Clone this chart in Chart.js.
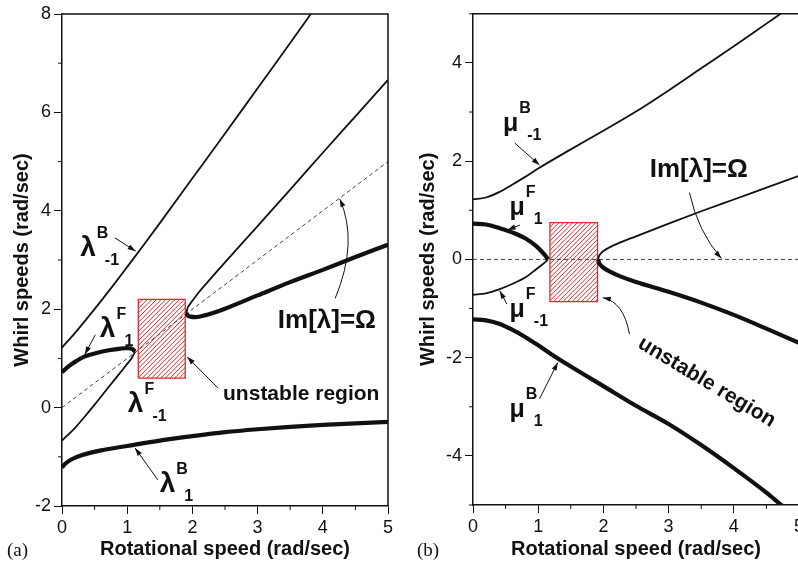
<!DOCTYPE html>
<html>
<head>
<meta charset="utf-8">
<script src="https://cdn.jsdelivr.net/npm/chart.js@4.4.0/dist/chart.umd.min.js"></script>
<style>
  html, body { margin: 0; padding: 0; background: #fff; overflow: hidden; }
  #wrap { position: relative; width: 798px; height: 561px; overflow: hidden; }
  canvas { position: absolute; top: 0; }
  #panelA { left: 0; }
  #panelB { left: 400px; }
</style>
</head>
<body>
<div id="wrap">
  <canvas id="panelA" width="400" height="561"></canvas>
  <canvas id="panelB" width="420" height="561"></canvas>
</div>
<script>
// ---- (a) whirl speeds, lambda branches ----
const lamBm1X = [0, 0.2, 0.4, 0.6, 0.8, 1, 1.25, 1.5, 2, 2.5, 3, 3.5, 3.8, 3.9];
const lamBm1Y = [1.22, 1.52, 1.84, 2.17, 2.51, 2.86, 3.3, 3.75, 4.66, 5.57, 6.49, 7.41, 7.97, 8.16];

const lamF1X = [0, 0.1, 0.2, 0.35, 0.5, 0.74, 0.9, 1.0, 1.06, 1.1, 1.12];
const lamF1Y = [0.72, 0.84, 0.93, 1.04, 1.1, 1.17, 1.2, 1.21, 1.2, 1.17, 1.14];

const lamFm1X = [0, 0.2, 0.37, 0.5, 0.74, 0.9, 0.99, 1.08, 1.12];
const lamFm1Y = [-0.67, -0.41, -0.15, 0.06, 0.46, 0.72, 0.87, 1.03, 1.14];

const lamHiX = [1.91, 1.92, 1.95, 2.0, 2.09, 2.2, 2.35, 2.5, 3, 3.5, 4, 4.5, 5];
const lamHiY = [1.92, 2.0, 2.08, 2.17, 2.33, 2.5, 2.73, 2.95, 3.69, 4.43, 5.18, 5.92, 6.66];

const lamLoX = [1.91, 1.93, 1.97, 2.05, 2.2, 2.35, 2.5, 3, 3.5, 4, 4.5, 5];
const lamLoY = [1.92, 1.87, 1.85, 1.84, 1.88, 1.94, 2.01, 2.28, 2.55, 2.8, 3.06, 3.31];

const lamB1X = [0, 0.05, 0.15, 0.3, 0.6, 1, 1.5, 2, 2.5, 3, 3.5, 4, 4.5, 5];
const lamB1Y = [-1.22, -1.14, -1.05, -0.97, -0.87, -0.78, -0.67, -0.58, -0.5, -0.44, -0.39, -0.35, -0.32, -0.29];

const omegaAX = [0, 5];
const omegaAY = [0, 5];

const unstableAX = [1.17, 1.89];
const unstableAY = [0.60, 2.20];

// ---- (b) whirl speeds, mu branches ----
const muBm1X = [0, 0.2, 0.4, 0.6, 0.8, 1, 1.5, 2, 2.5, 3, 3.5, 4, 4.5, 4.75];
const muBm1Y = [1.22, 1.26, 1.37, 1.52, 1.68, 1.85, 2.24, 2.62, 3.01, 3.44, 3.89, 4.34, 4.8, 5.03];

const muF1X = [0, 0.2, 0.4, 0.6, 0.8, 0.97, 1.06, 1.12, 1.15];
const muF1Y = [0.73, 0.71, 0.64, 0.55, 0.43, 0.27, 0.15, 0.06, 0];

const muFm1X = [0, 0.2, 0.4, 0.6, 0.8, 0.97, 1.06, 1.12, 1.15];
const muFm1Y = [-0.72, -0.69, -0.61, -0.5, -0.37, -0.2, -0.11, -0.04, 0];

const muHiX = [1.92, 1.93, 1.96, 2.0, 2.1, 2.25, 2.5, 3, 3.5, 4, 4.5, 5];
const muHiY = [0, 0.06, 0.12, 0.17, 0.25, 0.34, 0.47, 0.73, 0.98, 1.22, 1.46, 1.7];

const muLoX = [1.92, 1.93, 1.96, 2.0, 2.1, 2.25, 2.5, 3, 3.5, 4, 4.5, 5];
const muLoY = [0, -0.06, -0.12, -0.17, -0.25, -0.34, -0.46, -0.66, -0.88, -1.13, -1.41, -1.7];

const muB1X = [0, 0.2, 0.4, 0.6, 0.8, 1, 1.2, 1.5, 2, 2.5, 3, 3.5, 4, 4.5, 4.7, 4.8];
const muB1Y = [-1.22, -1.24, -1.31, -1.43, -1.58, -1.75, -1.93, -2.18, -2.58, -2.98, -3.35, -3.78, -4.25, -4.75, -4.97, -5.08];

const omegaBX = [0, 5];
const omegaBY = [0, 0];

const unstableBX = [1.18, 1.91];
const unstableBY = [-0.86, 0.75];

// ---- ticks ----
const xTicks = [0, 1, 2, 3, 4, 5];
const xMinor = [0.5, 1.5, 2.5, 3.5, 4.5];
const yTicksA = [-2, 0, 2, 4, 6, 8];
const yMinorA = [-1, 1, 3, 5, 7];
const yTicksB = [-4, -2, 0, 2, 4];
const yMinorB = [-5, -3, -1, 1, 3, 5];

const FAMILY = "'Liberation Sans', Arial, Helvetica, sans-serif";
const INK = "#111";
const RED = "#e3262c";


function points(xs, ys) {
    return xs.map((x, i) => ({ x, y: ys[i] }));
}

function curve(xs, ys, width) {
    return {
        data: points(xs, ys),
        showLine: true,
        borderColor: INK,
        borderWidth: width,
        pointRadius: 0,
        cubicInterpolationMode: "monotone",
        fill: false
    };
}

function dashed(xs, ys) {
    return {
        data: points(xs, ys),
        showLine: true,
        borderColor: "#444",
        borderWidth: 1,
        borderDash: [4, 3],
        pointRadius: 0,
        fill: false
    };
}

// red outline of the unstable band
function boxOutline(xs, ys) {
    const [x0, x1] = xs;
    const [y0, y1] = ys;
    return {
        data: [{ x: x0, y: y0 }, { x: x0, y: y1 }, { x: x1, y: y1 }, { x: x1, y: y0 }, { x: x0, y: y0 }],
        showLine: true,
        borderColor: RED,
        borderWidth: 1.3,
        pointRadius: 0,
        fill: false
    };
}


function drawArrow(ctx, pts) {
    const s = pts[0];
    const e = pts[pts.length - 1];
    const c = pts.length === 3 ? pts[1] : null;

    ctx.beginPath();
    ctx.moveTo(s[0], s[1]);
    if (c) ctx.quadraticCurveTo(c[0], c[1], e[0], e[1]);
    else ctx.lineTo(e[0], e[1]);
    ctx.stroke();

    const from = c || s;
    const ang = Math.atan2(e[1] - from[1], e[0] - from[0]);
    const L = 8, W = 2.6;
    ctx.beginPath();
    ctx.moveTo(e[0], e[1]);
    ctx.lineTo(e[0] - L * Math.cos(ang) + W * Math.sin(ang), e[1] - L * Math.sin(ang) - W * Math.cos(ang));
    ctx.lineTo(e[0] - L * Math.cos(ang) - W * Math.sin(ang), e[1] - L * Math.sin(ang) + W * Math.cos(ang));
    ctx.closePath();
    ctx.fill();
}

function drawSymbol(ctx, s, x, y) {
    ctx.textAlign = "left";
    ctx.textBaseline = "alphabetic";
    ctx.font = "bold " + s.size + "px " + FAMILY;
    ctx.fillText(s.base, x, y);
    const w = ctx.measureText(s.base).width;
    ctx.font = "bold 16px " + FAMILY;
    ctx.fillText(s.sup, x + w + 1, y - 18);
    ctx.fillText(s.sub, x + w + 9, y + 9);
}

// hatching, frame, minor ticks, labels and arrows
const figureNotes = {
    id: "figureNotes",
    beforeDatasetsDraw(chart, args, opts) {
        const { ctx } = chart;
        const sx = chart.scales.x;
        const sy = chart.scales.y;
        const left = sx.getPixelForValue(opts.hatch.xs[0]);
        const right = sx.getPixelForValue(opts.hatch.xs[1]);
        const top = sy.getPixelForValue(opts.hatch.ys[1]);
        const bottom = sy.getPixelForValue(opts.hatch.ys[0]);
        const h = bottom - top;

        ctx.save();
        ctx.beginPath();
        ctx.rect(left, top, right - left, h);
        ctx.clip();
        ctx.strokeStyle = RED;
        ctx.lineWidth = 1;
        ctx.beginPath();
        for (let k = left - h; k < right; k += 4.6) {
            ctx.moveTo(k, bottom);
            ctx.lineTo(k + h, top);
        }
        ctx.stroke();
        ctx.restore();
    },
    afterDraw(chart, args, opts) {
        const { ctx, chartArea: a } = chart;
        const sx = chart.scales.x;
        const sy = chart.scales.y;
        const px = v => sx.getPixelForValue(v);
        const py = v => sy.getPixelForValue(v);

        ctx.save();
        ctx.strokeStyle = INK;
        ctx.fillStyle = INK;

        ctx.lineWidth = 1.5;
        ctx.beginPath();
        ctx.moveTo(a.left, a.top);
        ctx.lineTo(a.right, a.top);
        ctx.lineTo(a.right, a.bottom);
        ctx.stroke();

        ctx.lineWidth = 1;
        opts.minorX.forEach(v => {
            ctx.beginPath();
            ctx.moveTo(px(v), a.bottom);
            ctx.lineTo(px(v), a.bottom + 4);
            ctx.stroke();
        });
        opts.minorY.forEach(v => {
            if (py(v) < a.top - 1 || py(v) > a.bottom + 1) return;
            ctx.beginPath();
            ctx.moveTo(a.left, py(v));
            ctx.lineTo(a.left - 4, py(v));
            ctx.stroke();
        });

        opts.arrows.forEach(arr => {
            drawArrow(ctx, arr.map(p => [px(p[0]), py(p[1])]));
        });

        opts.symbols.forEach(s => drawSymbol(ctx, s, px(s.at[0]), py(s.at[1])));

        opts.texts.forEach(t => {
            ctx.save();
            ctx.font = t.font;
            ctx.textAlign = "left";
            ctx.textBaseline = "alphabetic";
            ctx.translate(px(t.at[0]), py(t.at[1]));
            if (t.angle) ctx.rotate(t.angle * Math.PI / 180);
            ctx.fillText(t.text, 0, 0);
            ctx.restore();
        });

        ctx.font = "19px 'Liberation Serif', 'Times New Roman', serif";
        ctx.textAlign = "left";
        ctx.textBaseline = "alphabetic";
        ctx.fillText(opts.tag.text, opts.tag.x, opts.tag.y);

        ctx.restore();
    }
};


function axisTicks(list) {
    return scale => {
        scale.ticks = list.map(v => ({ value: v }));
    };
}

function buildOptions(cfg) {
    const tickFont = { family: FAMILY, size: 18 };
    const titleFont = { family: FAMILY, size: 20, weight: "bold" };
    return {
        responsive: false,
        animation: false,
        layout: { padding: { top: cfg.top, right: cfg.right, left: 0, bottom: 0 } },
        plugins: {
            legend: { display: false },
            tooltip: { enabled: false },
            figureNotes: cfg.notes
        },
        scales: {
            x: {
                type: "linear",
                min: 0,
                max: 5,
                afterBuildTicks: axisTicks(xTicks),
                afterFit: scale => { scale.height = cfg.xHeight; },
                grid: { drawOnChartArea: false, drawTicks: true, tickLength: 8, color: INK, lineWidth: 1 },
                border: { color: INK, width: 1.5 },
                ticks: { color: INK, font: tickFont, padding: 3, maxRotation: 0, autoSkip: false },
                title: {
                    display: true,
                    text: "Rotational speed (rad/sec)",
                    color: INK,
                    font: titleFont,
                    padding: { top: 0, bottom: 0 }
                }
            },
            y: {
                type: "linear",
                min: cfg.yMin,
                max: cfg.yMax,
                afterBuildTicks: axisTicks(cfg.yTicks),
                afterFit: scale => { scale.width = cfg.yWidth; },
                grid: { drawOnChartArea: false, drawTicks: true, tickLength: 8, color: INK, lineWidth: 1 },
                border: { color: INK, width: 1.5 },
                ticks: { color: INK, font: tickFont, padding: 3, autoSkip: false },
                title: {
                    display: true,
                    text: "Whirl speeds (rad/sec)",
                    color: INK,
                    font: titleFont,
                    padding: { top: cfg.titlePad, bottom: 0 }
                }
            }
        }
    };
}

const labelFont = "bold 21px " + FAMILY;
const omegaFont = "bold 26px " + FAMILY;

new Chart(document.getElementById("panelA"), {
    type: "scatter",
    data: {
        datasets: [
            curve(lamBm1X, lamBm1Y, 1.8),
            curve(lamF1X, lamF1Y, 4.2),
            curve(lamFm1X, lamFm1Y, 1.8),
            curve(lamHiX, lamHiY, 1.8),
            curve(lamLoX, lamLoY, 4.2),
            curve(lamB1X, lamB1Y, 4.2),
            dashed(omegaAX, omegaAY),
            boxOutline(unstableAX, unstableAY)
        ]
    },
    options: buildOptions({
        top: 14, right: 12, xHeight: 55, yWidth: 62, titlePad: 10,
        yMin: -2, yMax: 8, yTicks: yTicksA,
        notes: {
            hatch: { xs: unstableAX, ys: unstableAY },
            minorX: xMinor,
            minorY: yMinorA,
            tag: { text: "(a)", x: 7, y: 556 },
            arrows: [
                [[0.81, 3.45], [1.13, 3.18]],
                [[0.51, 1.48], [0.35, 1.08]],
                [[1.47, -1.47], [1.12, -0.82]],
                [[2.39, 0.40], [1.92, 1.03]],
                [[4.19, 2.22], [4.55, 3.37], [4.26, 4.24]]
            ],
            symbols: [
                { base: "λ", size: 28, sup: "B", sub: "-1", at: [0.28, 3.08] },
                { base: "λ", size: 28, sup: "F", sub: "1", at: [0.58, 1.43] },
                { base: "λ", size: 28, sup: "F", sub: "-1", at: [1.01, -0.09] },
                { base: "λ", size: 28, sup: "B", sub: "1", at: [1.50, -1.72] }
            ],
            texts: [
                { text: "Im[λ]=Ω", font: omegaFont, at: [3.31, 1.62] },
                { text: "unstable region", font: labelFont, at: [2.47, 0.15] }
            ]
        }
    }),
    plugins: [figureNotes]
});

new Chart(document.getElementById("panelB"), {
    type: "scatter",
    data: {
        datasets: [
            curve(muBm1X, muBm1Y, 1.8),
            curve(muF1X, muF1Y, 4.2),
            curve(muFm1X, muFm1Y, 1.8),
            curve(muHiX, muHiY, 1.8),
            curve(muLoX, muLoY, 4.2),
            curve(muB1X, muB1Y, 4.2),
            dashed(omegaBX, omegaBY),
            boxOutline(unstableBX, unstableBY)
        ]
    },
    options: buildOptions({
        top: 13, right: 21, xHeight: 56, yWidth: 73, titlePad: 16,
        yMin: -5, yMax: 5, yTicks: yTicksB,
        notes: {
            hatch: { xs: unstableBX, ys: unstableBY },
            minorX: xMinor,
            minorY: yMinorB,
            tag: { text: "(b)", x: 17, y: 556 },
            arrows: [
                [[0.64, 2.37], [1.02, 1.92]],
                [[0.72, 0.70], [0.53, 0.60]],
                [[0.52, -0.91], [0.41, -0.64]],
                [[1.02, -2.84], [1.30, -2.10]],
                [[3.32, 1.36], [3.45, 0.56], [3.81, 0.02]],
                [[2.40, -1.52], [2.31, -0.86], [1.99, -0.78]]
            ],
            symbols: [
                { base: "μ", size: 25, sup: "B", sub: "-1", at: [0.46, 2.61] },
                { base: "μ", size: 25, sup: "F", sub: "1", at: [0.56, 0.90] },
                { base: "μ", size: 25, sup: "F", sub: "-1", at: [0.56, -1.17] },
                { base: "μ", size: 25, sup: "B", sub: "1", at: [0.56, -3.20] }
            ],
            texts: [
                { text: "Im[λ]=Ω", font: omegaFont, at: [2.71, 1.68] },
                { text: "unstable region", font: labelFont, at: [2.51, -1.78], angle: 31 }
            ]
        }
    }),
    plugins: [figureNotes]
});
</script>
</body>
</html>
